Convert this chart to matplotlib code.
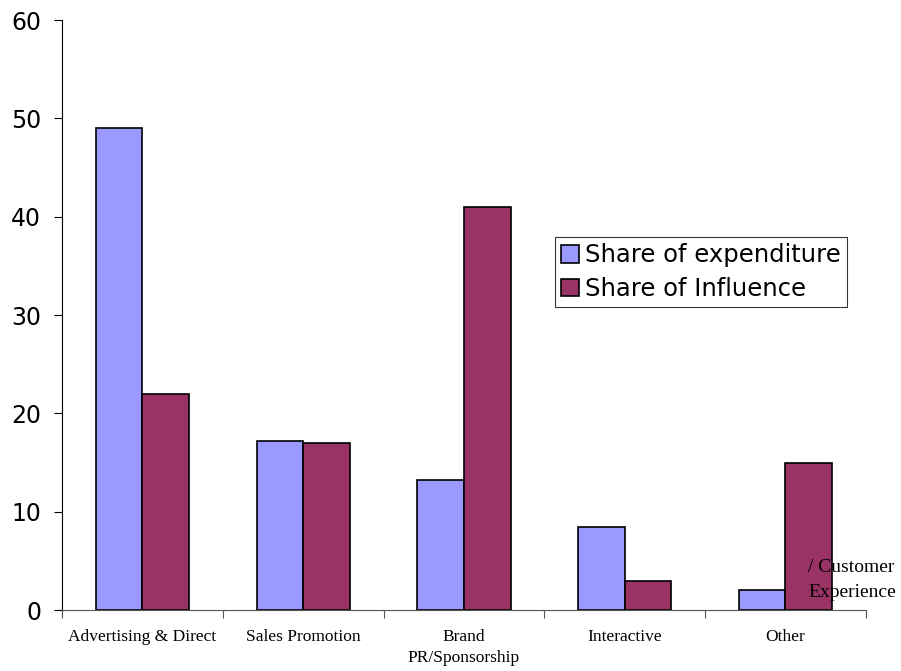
import matplotlib.pyplot as plt
import numpy as np

categories = ['Advertising & Direct', 'Sales Promotion', 'Brand\nPR/Sponsorship',
              'Interactive', 'Other']
expenditure = [49, 17.2, 13.2, 8.4, 2]
influence = [22, 17, 41, 3, 15]
series_names = ['Share of expenditure', 'Share of Influence']

fig = plt.figure(figsize=(9.01, 6.71), dpi=100)
ax = fig.add_axes([0.0688, 0.0909, 0.8922, 0.8791])

x = np.arange(len(categories))
w = 0.29
ax.bar(x - w/2, expenditure, w, color='#9999FF', edgecolor='black', linewidth=1.2,
       label=series_names[0])
ax.bar(x + w/2, influence, w, color='#993366', edgecolor='black', linewidth=1.2,
       label=series_names[1])

ax.set_xlim(-0.5, len(categories) - 0.5)
ax.set_ylim(0, 60)
ax.set_yticks(np.arange(0, 61, 10))
ax.tick_params(axis='y', labelsize=17, length=6, width=0.8, pad=9)

# category labels between boundary ticks
ax.set_xticks(x)
ax.set_xticklabels(categories, family='Liberation Serif', fontsize=12.5, linespacing=1.4)
ax.tick_params(axis='x', which='major', length=0, pad=14)
ax.set_xticks(np.arange(-0.5, len(categories)), minor=True)
ax.tick_params(axis='x', which='minor', length=6, width=0.8, color='#555555')

ax.spines['top'].set_visible(False)
ax.spines['right'].set_visible(False)
ax.spines['bottom'].set_color('#555555')

ax.text(4.14, 4.3, '/ Customer', family='Liberation Serif', fontsize=14, va='center')
ax.text(4.14, 1.8, 'Experience', family='Liberation Serif', fontsize=14, va='center')

leg = ax.legend(loc='upper left', bbox_to_anchor=(0.613, 0.632), fontsize=17.5,
                frameon=True, fancybox=False, edgecolor='black', borderpad=0.25,
                handlelength=0.75, handleheight=0.75, handletextpad=0.25, labelspacing=0.4,
                borderaxespad=0)
leg.get_frame().set_linewidth(0.8)

plt.savefig('out.png', dpi=100)
